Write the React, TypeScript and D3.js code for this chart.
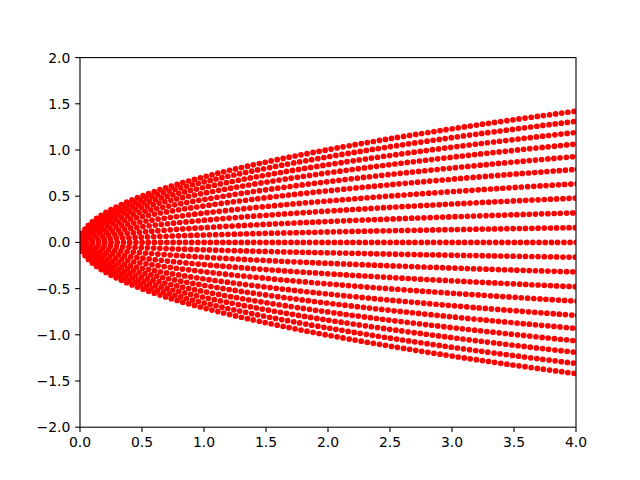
import React from "react";
import * as d3 from "d3";

// Value of each curve y = k·sqrt(x) at the right edge x = 4
const curveEndY: number[] = [
  -1.42, -1.31, -1.19, -1.065, -0.93, -0.79, -0.635, -0.48, -0.32, -0.16, 0,
  0.16, 0.32, 0.48, 0.635, 0.79, 0.93, 1.065, 1.19, 1.31, 1.42,
];
// Spacing of the dots along each curve (data units)
const dotSpacing = 0.05;
const xEnd = 4;

const xTicks: number[] = [0, 0.5, 1, 1.5, 2, 2.5, 3, 3.5, 4];
const yTicks: number[] = [-2, -1.5, -1, -0.5, 0, 0.5, 1, 1.5, 2];
const xDomain: [number, number] = [0, 4];
const yDomain: [number, number] = [-2, 2];

const W = 640;
const H = 480;
const left = 80;
const right = 576;
const top = 57.6;
const bottom = 427.2;

function curvePoints(endY: number): [number, number][] {
  const k = endY / Math.sqrt(xEnd);
  const pts: [number, number][] = [[0, 0]];
  let s = 0;
  let next = dotSpacing;
  let u = 0;
  const du = 0.0005;
  while (u * u <= xEnd + 0.1) {
    const ds = Math.sqrt(4 * u * u + k * k) * du;
    u += du;
    s += ds;
    if (s >= next) {
      pts.push([u * u, k * u]);
      next += dotSpacing;
    }
  }
  return pts;
}

export default function App() {
  const x = d3.scaleLinear().domain(xDomain).range([left, right]);
  const y = d3.scaleLinear().domain(yDomain).range([bottom, top]);
  const tickLen = 4.86;
  const font = "DejaVu Sans, sans-serif";
  const fmt = d3.format(".1f");

  return (
    <svg
      width={W}
      height={H}
      style={{ position: "absolute", left: 0, top: 0, background: "#fff" }}
    >
      <defs>
        <clipPath id="ax">
          <rect x={left} y={top} width={right - left} height={bottom - top} />
        </clipPath>
      </defs>
      <rect x={0} y={0} width={W} height={H} fill="#fff" />
      <g clipPath="url(#ax)">
        {curveEndY.map((e, i) => (
          <g key={i}>
            {curvePoints(e).map(([px, py], j) => (
              <circle key={j} cx={x(px)} cy={y(py)} r={2.85} fill="#ff0000" />
            ))}
          </g>
        ))}
      </g>
      <rect
        x={left}
        y={top}
        width={right - left}
        height={bottom - top}
        fill="none"
        stroke="#000"
        strokeWidth={1.1}
      />
      {xTicks.map((t) => (
        <g key={"x" + t}>
          <line x1={x(t)} x2={x(t)} y1={bottom} y2={bottom + tickLen} stroke="#000" strokeWidth={1.1} />
          <text x={x(t)} y={bottom + 19.8} textAnchor="middle" fontFamily={font} fontSize={13.9} fill="#000">
            {fmt(t)}
          </text>
        </g>
      ))}
      {yTicks.map((t) => (
        <g key={"y" + t}>
          <line x1={left - tickLen} x2={left} y1={y(t)} y2={y(t)} stroke="#000" strokeWidth={1.1} />
          <text x={left - 9.7} y={y(t) + 5} textAnchor="end" fontFamily={font} fontSize={13.9} fill="#000">
            {t < 0 ? "\u2212" + fmt(-t) : fmt(t)}
          </text>
        </g>
      ))}
    </svg>
  );
}
